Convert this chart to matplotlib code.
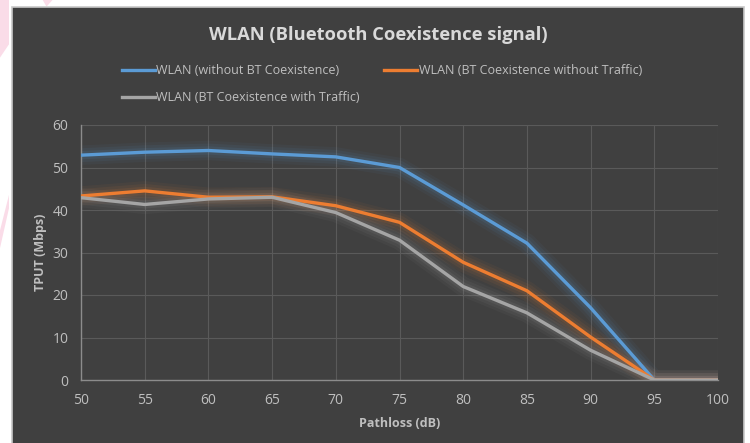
import matplotlib.pyplot as plt
from matplotlib.patches import Rectangle, Polygon

plt.rcParams['font.family'] = ['Open Sans', 'DejaVu Sans']

pathloss = [50, 55, 60, 65, 70, 75, 80, 85, 90, 95, 100]
wlan_no_bt = [52.9, 53.6, 54.0, 53.2, 52.5, 50.0, 41.2, 32.2, 17.0, 0, 0]
wlan_bt_no_traffic = [43.3, 44.5, 43.0, 43.1, 41.0, 37.1, 27.7, 21.0, 10.1, 0, 0]
wlan_bt_traffic = [42.9, 41.3, 42.6, 43.0, 39.4, 32.9, 22.0, 15.8, 7.0, 0, 0]
labels = ['WLAN (without BT Coexistence)',
          'WLAN (BT Coexistence without Traffic)',
          'WLAN (BT Coexistence with Traffic)']
colors = ['#5B9BD5', '#ED7D31', '#A5A5A5']

BG = '#404040'
TXT = '#BFBFBF'

fig = plt.figure(figsize=(7.5, 4.43), dpi=100)
fig.patch.set_facecolor('white')

# page decorations behind the chart
pink = dict(transform=fig.transFigure, facecolor='#FADCE8', edgecolor='none', zorder=-20)
fig.patches.append(Polygon([(0, 0.87), (0.012, 0.9), (0.012, 1), (0, 1)], closed=True, **pink))
fig.patches.append(Polygon([(0.057, 1), (0.07, 1), (0.062, 0.985)], closed=True, **pink))
fig.patches.append(Polygon([(0, 0.44), (0.012, 0.53), (0.012, 0.56), (0, 0.48)], closed=True, **pink))
fig.patches.append(Rectangle((12 / 750, -0.01), 732 / 750, 1 - 7 / 443 + 0.01,
                             transform=fig.transFigure, facecolor=BG,
                             edgecolor='#C8C8C8', linewidth=1.2, zorder=-10))

ax = fig.add_axes([81 / 750, 1 - 380 / 443, 637 / 750, 255 / 443])
ax.set_facecolor('none')

series = [wlan_no_bt, wlan_bt_no_traffic, wlan_bt_traffic]
handles = []
for vals, col, lab in zip(series, colors, labels):
    # soft glow under each line
    for w, a in [(14, 0.05), (10, 0.07), (6, 0.1)]:
        ax.plot(pathloss, vals, color=col, lw=w, alpha=a, solid_capstyle='butt', zorder=2)
    h, = ax.plot(pathloss, vals, color=col, lw=2.4, label=lab, zorder=3, solid_joinstyle='round')
    handles.append(h)

ax.set_xlim(50, 100)
ax.set_ylim(0, 60)
ax.set_xticks(pathloss)
ax.set_yticks(range(0, 61, 10))
ax.grid(True, color='#5A5A5A', lw=0.8)
ax.set_axisbelow(True)
for s in ['top', 'right']:
    ax.spines[s].set_visible(False)
for s in ['left', 'bottom']:
    ax.spines[s].set_color('#8C8C8C')
    ax.spines[s].set_linewidth(1.0)
ax.tick_params(length=0, colors=TXT, labelsize=10, pad=9)
ax.tick_params(axis='y', pad=9)

ax.set_xlabel('Pathloss (dB)', color=TXT, fontsize=9, fontweight='bold', labelpad=7)
ax.set_ylabel('TPUT (Mbps)', color=TXT, fontsize=9, fontweight='bold', labelpad=4)

fig.text(378 / 750, 1 - 35 / 443, 'WLAN (Bluetooth Coexistence signal)', ha='center', va='center',
         color='#D9D9D9', fontsize=13.2, fontweight='bold')

leg = fig.legend([handles[0], handles[2], handles[1]], [labels[0], labels[2], labels[1]],
                 ncol=2, loc='upper left', bbox_to_anchor=(122 / 750, 1 - 64 / 443),
                 frameon=False, fontsize=9, handlelength=2.6, handletextpad=0.15,
                 columnspacing=1.95, labelspacing=1.15, borderaxespad=0, borderpad=0)
for t in leg.get_texts():
    t.set_color(TXT)

fig.savefig('out.png', dpi=100, facecolor='white')
